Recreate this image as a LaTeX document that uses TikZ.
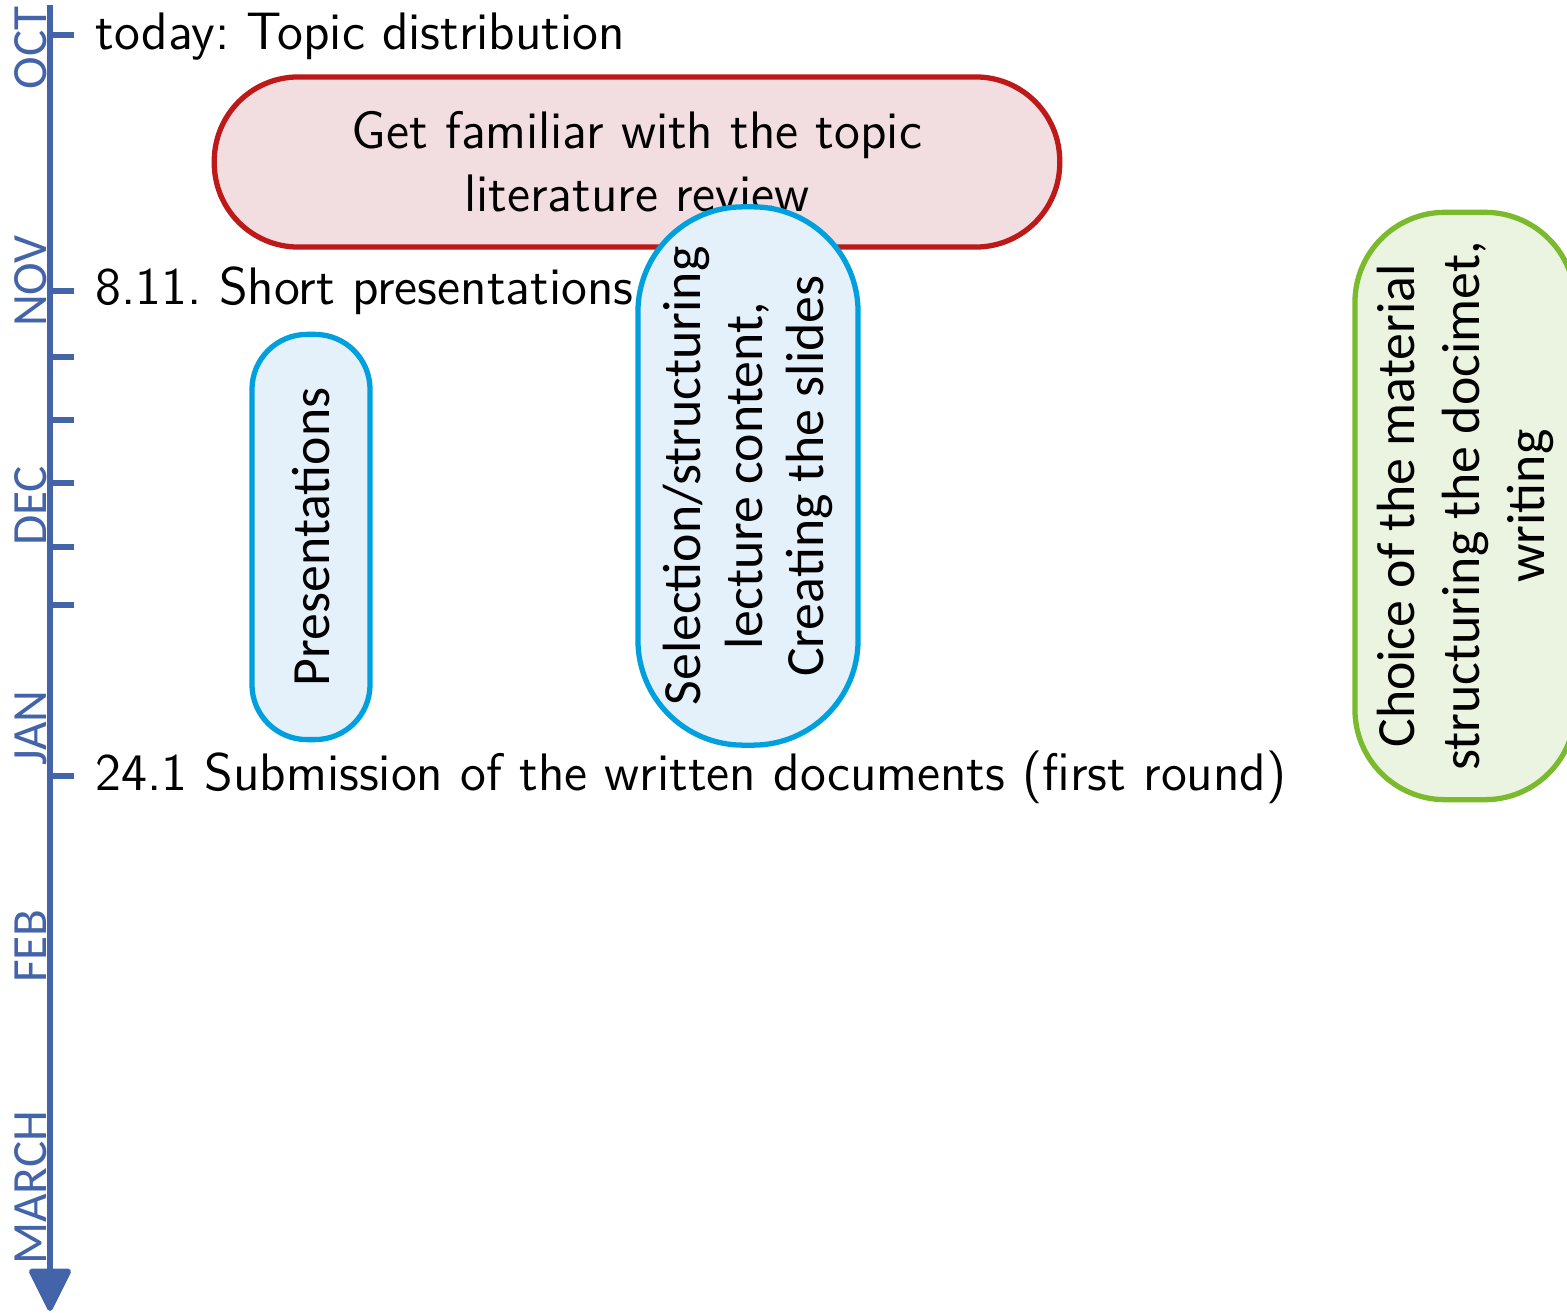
\documentclass[tikz,border=0pt]{standalone}
\usepackage{fontspec}
\newfontfamily\calfont{Carlito}
\usepackage{tikz}
\usetikzlibrary{arrows.meta}
\definecolor{axisblue}{RGB}{68,100,170}
\definecolor{redline}{RGB}{190,25,25}
\definecolor{redfill}{RGB}{242,221,224}
\definecolor{blueline}{RGB}{0,160,222}
\definecolor{bluefill}{RGB}{228,240,250}
\definecolor{greenline}{RGB}{122,186,44}
\definecolor{greenfill}{RGB}{235,244,225}
\frenchspacing

\begin{document}
\begin{tikzpicture}[x=0.01cm,y=-0.01cm,
	every node/.style={font=\sffamily\fontsize{15}{18}\selectfont},
	month/.style={rotate=90, anchor=base, inner sep=0pt, text=axisblue, font=\calfont\fontsize{14}{16}\selectfont},
	event/.style={anchor=base west, inner sep=0pt},
	blob/.style={line width=1.5pt, align=center, inner sep=0pt},
	vblob/.style={blob, rotate=90, font=\calfont\fontsize{15.3}{17.5}\selectfont}]

	\useasboundingbox (0,0) rectangle (1567,1313);

	% time axis
	\coordinate (top) at (50,5);
	\coordinate (bottom) at (50,1311);
	\draw[axisblue, line width=1.6pt, -{Triangle[length=0.46cm,width=0.44cm,round]}] (top) -- (bottom);
	\foreach \y in {35,291,357,420,483,547,605,776}
		\draw[axisblue, line width=1.6pt] (50,\y) -- (74,\y);

	% months
	\node[month] (oct) at (46,48) {OCT};
	\node[month] (nov) at (46,281) {NOV};
	\node[month] (dec) at (46,506) {DEC};
	\node[month] (jan) at (46,728) {JAN};
	\node[month] (feb) at (46,946) {FEB};
	\node[month] (mar) at (46,1188) {MARCH};

	% dates
	\node[event] (today) at (95,50) {today: Topic distribution};
	\node[event] (short) at (95,305) {8.11. Short presentations};
	\node[event] (submit) at (95,790) {24.1 Submission of the written documents (first round)};

	% phases
	\node[blob, draw=redline, fill=redfill, minimum width=8.45cm, minimum height=1.7cm,
		rounded corners=0.84cm] (topic) at (637,162) {Get familiar with the topic\\literature review};
	\node[vblob, draw=blueline, fill=bluefill, minimum width=4.05cm, minimum height=1.18cm,
		rounded corners=0.55cm] (pres) at (311,537) {Presentations};
	\node[vblob, draw=blueline, fill=bluefill, minimum width=5.38cm, minimum height=2.2cm,
		rounded corners=1.05cm] (slides) at (748,476) {Selection/structuring\\lecture content,\\Creating the slides};
	\node[vblob, draw=greenline, fill=greenfill, minimum width=5.87cm, minimum height=2.2cm,
		rounded corners=0.9cm, font=\calfont\fontsize{15.3}{18.5}\selectfont] (writing) at (1465,506)
		{Choice of the material\\structuring the docimet,\\writing};
\end{tikzpicture}
\end{document}
